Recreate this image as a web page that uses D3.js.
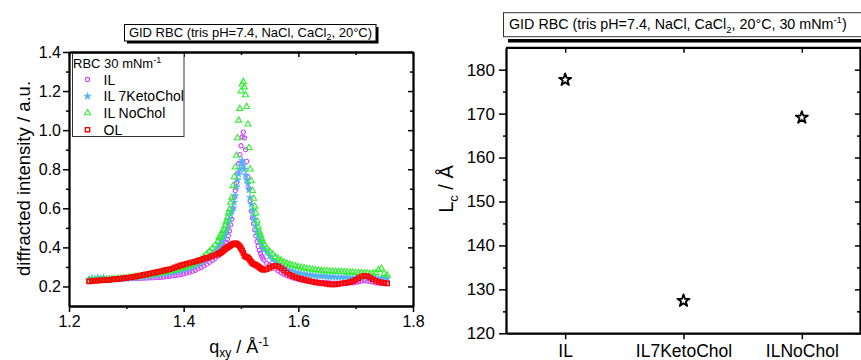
<!DOCTYPE html>
<html><head><meta charset="utf-8">
<script src="https://cdn.jsdelivr.net/npm/d3@7"></script>
<style>body{margin:0;background:#fff} svg{display:block} text{font-family:Arial,"Liberation Sans",sans-serif;fill:#000}</style>
</head><body><svg id="c" width="861" height="360"></svg>
<script>
// ---------- data: left panel (GID scans) ----------
const qxy = [1.235,1.24,1.245,1.25,1.255,1.26,1.265,1.27,1.275,1.28,1.285,1.29,1.295,1.3,1.305,1.31,1.315,1.32,1.325,1.33,1.335,1.34,1.345,1.35,1.355,1.36,1.365,1.37,1.375,1.38,1.385,1.39,1.395,1.4,1.405,1.41,1.415,1.42,1.425,1.43,1.435,1.44,1.445,1.45,1.455,1.46,
1.462,1.464,1.466,1.468,1.47,1.472,1.474,1.476,1.478,1.48,1.482,1.484,1.486,1.488,1.49,1.492,1.494,1.496,1.498,1.5,1.502,1.504,1.506,1.508,1.51,1.512,1.514,1.516,1.518,1.52,1.522,1.524,1.526,1.528,1.53,1.532,1.534,1.536,1.538,1.54,
1.545,1.55,1.555,1.56,1.565,1.57,1.575,1.58,1.585,1.59,1.595,1.6,1.605,1.61,1.615,1.62,1.625,1.63,1.635,1.64,1.645,1.65,1.655,1.66,1.665,1.67,1.675,1.68,1.685,1.69,1.695,1.7,1.705,1.71,1.715,1.72,1.725,1.73,1.735,1.74,1.745,1.75,1.755];
const intIL = [.228,.229,.230,.231,.232,.232,.233,.234,.235,.236,.237,.238,.239,.240,.240,.241,.241,.242,.242,.243,.243,.244,.244,.245,.246,.247,.248,.250,.252,.254,.256,.258,.261,.264,.268,.272,.277,.283,.290,.297,.305,.314,.324,.334,.344,.355,
.362,.370,.378,.388,.398,.410,.425,.440,.460,.485,.515,.545,.600,.655,.690,.730,.780,.830,.875,.920,.965,.990,.960,.900,.840,.760,.700,.640,.585,.550,.520,.490,.460,.430,.405,.385,.370,.355,.345,.335,
.318,.310,.302,.290,.280,.270,.262,.255,.249,.244,.240,.236,.233,.230,.228,.226,.224,.223,.222,.221,.220,.219,.218,.217,.217,.216,.216,.216,.217,.218,.219,.221,.224,.227,.229,.228,.225,.222,.219,.217,.216,.215,.214];
const int7Keto = [.236,.242,.238,.245,.240,.246,.238,.237,.236,.237,.238,.239,.240,.241,.242,.244,.245,.247,.249,.251,.253,.255,.257,.259,.261,.263,.266,.268,.271,.274,.277,.280,.283,.287,.291,.296,.301,.307,.314,.322,.331,.341,.352,.366,.381,.398,
.410,.420,.430,.440,.455,.465,.480,.500,.525,.545,.570,.585,.600,.630,.665,.710,.745,.775,.800,.830,.845,.820,.800,.770,.745,.725,.695,.655,.620,.590,.560,.540,.510,.480,.460,.445,.430,.415,.400,.390,
.375,.355,.338,.325,.315,.305,.296,.288,.282,.277,.273,.269,.266,.263,.261,.259,.257,.255,.254,.253,.252,.251,.250,.249,.248,.247,.247,.246,.246,.245,.245,.244,.245,.246,.248,.247,.245,.243,.242,.241,.242,.244,.240];
const intNoChol = [.232,.230,.233,.231,.234,.233,.235,.236,.238,.237,.240,.241,.243,.244,.246,.247,.249,.251,.253,.255,.257,.259,.262,.264,.267,.269,.272,.275,.278,.281,.284,.288,.292,.296,.300,.306,.312,.320,.328,.338,.352,.366,.380,.395,.412,.432,
.450,.460,.470,.485,.495,.510,.530,.550,.575,.595,.630,.655,.715,.760,.810,.870,.960,1.050,1.110,1.200,1.235,1.248,1.220,1.180,1.120,1.030,.910,.800,.740,.690,.650,.610,.575,.535,.505,.480,.465,.445,.430,.415,
.395,.380,.365,.350,.342,.333,.325,.318,.313,.308,.304,.300,.297,.294,.291,.289,.287,.285,.283,.281,.280,.279,.278,.277,.276,.276,.275,.275,.273,.272,.272,.271,.270,.269,.268,.268,.266,.267,.270,.285,.292,.265,.258];
const intOL = [.226,.228,.229,.230,.231,.232,.233,.234,.236,.237,.239,.240,.242,.244,.246,.248,.250,.253,.256,.259,.262,.265,.268,.271,.275,.278,.281,.285,.288,.292,.298,.303,.308,.312,.316,.320,.324,.328,.332,.336,.341,.346,.351,.356,.361,.367,
.369,.372,.376,.381,.386,.391,.395,.398,.402,.406,.410,.414,.417,.420,.421,.420,.416,.411,.404,.395,.385,.372,.358,.352,.350,.348,.342,.333,.325,.318,.315,.313,.310,.306,.302,.298,.294,.290,.287,.285,
.288,.295,.303,.306,.302,.293,.282,.270,.260,.253,.247,.243,.239,.235,.231,.227,.224,.221,.219,.217,.215,.213,.211,.210,.211,.213,.215,.217,.219,.222,.227,.234,.243,.251,.255,.253,.245,.236,.229,.224,.221,.218,.216];
const seriesNames = ["IL","IL 7KetoChol","IL NoChol","OL"];
const xTicksL = [1.2,1.4,1.6,1.8];
const xMinorL = [1.3,1.5,1.7];
const yTicksL = [0.2,0.4,0.6,0.8,1.0,1.2,1.4];
const yMinorL = [0.3,0.5,0.7,0.9,1.1,1.3];
// ---------- data: right panel (coherence length) ----------
const samples = ["IL","IL7KetoChol","ILNoChol"];
const Lc = [177.7,127.4,169.1];
const yTicksR = [120,130,140,150,160,170,180];
const yMinorR = [125,135,145,155,165,175];

const svg = d3.select("#c");
const FONT = 'Arial,"Liberation Sans",sans-serif';

function styleAxis(g, fs){
  g.attr("font-family", FONT).attr("font-size", fs);
  g.select(".domain").attr("stroke","#000").attr("stroke-width",1.8);
  g.selectAll(".tick line").attr("stroke","#000").attr("stroke-width",1.5);
  g.selectAll(".tick text").attr("fill","#000");
}

// ================= LEFT PANEL =================
const x = d3.scaleLinear().domain([1.2,1.8]).range([69,413]);
const y = d3.scaleLinear().domain([0.1,1.4]).range([306,52]);

// title box
svg.append("rect").attr("x",127).attr("y",27).attr("width",251.5).attr("height",16.5).attr("fill","#000");
svg.append("rect").attr("x",124.5).attr("y",24.5).attr("width",251.5).attr("height",16.5).attr("fill","#fff").attr("stroke","#000").attr("stroke-width",1);
{
  const t = svg.append("text").attr("x",250.5).attr("y",37.3).attr("text-anchor","middle").attr("font-size",13);
  t.append("tspan").text("GID RBC (tris pH=7.4, NaCl, CaCl");
  t.append("tspan").attr("font-size",9).attr("dy",3).text("2");
  t.append("tspan").attr("dy",-3).text(", 20°C)");
}

const series = [
  {name:seriesNames[0], vals:intIL, sym:d3.symbolCircle, size:14, fill:"none", stroke:"#cc44ff", sw:1.1},
  {name:seriesNames[1], vals:int7Keto, sym:d3.symbolStar, size:16, fill:"#55b0f2", stroke:"#55b0f2", sw:0.6},
  {name:seriesNames[2], vals:intNoChol, sym:d3.symbolTriangle, size:16, fill:"none", stroke:"#33ee33", sw:1.1},
  {name:seriesNames[3], vals:intOL, sym:d3.symbolSquare, size:18, fill:"none", stroke:"#ff0000", sw:1.4}
];
const gPts = svg.append("g");
series.forEach(s=>{
  const sym = d3.symbol().type(s.sym).size(s.size);
  gPts.append("g").selectAll("path").data(qxy.map((q,i)=>[q,s.vals[i]])).join("path")
    .attr("transform",d=>`translate(${x(d[0])},${y(d[1])})`)
    .attr("d",sym).attr("fill",s.fill).attr("stroke",s.stroke).attr("stroke-width",s.sw);
});

// axes
styleAxis(svg.append("g").attr("transform","translate(0,306)")
  .call(d3.axisBottom(x).tickValues(xTicksL).tickSize(6).tickSizeOuter(0).tickPadding(4).tickFormat(d3.format(".1f"))),16);
styleAxis(svg.append("g").attr("transform","translate(0,306)")
  .call(d3.axisBottom(x).tickValues(xMinorL).tickSize(3).tickSizeOuter(0).tickFormat("")),16);
styleAxis(svg.append("g").attr("transform","translate(0,52)")
  .call(d3.axisTop(x).tickValues(xTicksL).tickSize(-5).tickSizeOuter(0).tickFormat("")),16);
styleAxis(svg.append("g").attr("transform","translate(0,52)")
  .call(d3.axisTop(x).tickValues(xMinorL).tickSize(-3).tickSizeOuter(0).tickFormat("")),16);
styleAxis(svg.append("g").attr("transform","translate(69,0)")
  .call(d3.axisLeft(y).tickValues(yTicksL).tickSize(6).tickSizeOuter(0).tickPadding(2).tickFormat(d3.format(".1f"))),16);
styleAxis(svg.append("g").attr("transform","translate(69,0)")
  .call(d3.axisLeft(y).tickValues(yMinorL).tickSize(3).tickSizeOuter(0).tickFormat("")),16);
styleAxis(svg.append("g").attr("transform","translate(413,0)")
  .call(d3.axisRight(y).tickValues(yTicksL).tickSize(-5).tickSizeOuter(0).tickFormat("")),16);
styleAxis(svg.append("g").attr("transform","translate(413,0)")
  .call(d3.axisRight(y).tickValues(yMinorL).tickSize(-3).tickSizeOuter(0).tickFormat("")),16);

// legend
svg.append("rect").attr("x",72.5).attr("y",53.5).attr("width",111.5).attr("height",83).attr("fill","#fff").attr("stroke","#333").attr("stroke-width",1);
{
  const t = svg.append("text").attr("x",73).attr("y",67.5).attr("font-size",13);
  t.append("tspan").text("RBC 30 mNm");
  t.append("tspan").attr("font-size",9).attr("dy",-5).text("-1");
}
const legY = [79.5,96.3,113,129.7];
series.forEach((s,i)=>{
  svg.append("path").attr("transform",`translate(87.5,${legY[i]})`)
    .attr("d",d3.symbol().type(s.sym).size(s.size)).attr("fill",s.fill).attr("stroke",s.stroke).attr("stroke-width",s.sw);
  svg.append("text").attr("x",103.5).attr("y",legY[i]+5).attr("font-size",14).text(s.name);
});

// axis titles
svg.append("text").attr("transform","translate(30,178.5) rotate(-90)").attr("text-anchor","middle")
  .attr("font-size",18.5).text("diffracted intensity / a.u.");
{
  const t = svg.append("text").attr("x",239).attr("y",353).attr("text-anchor","middle").attr("font-size",18);
  t.append("tspan").text("q");
  t.append("tspan").attr("font-size",12).attr("dy",4).text("xy");
  t.append("tspan").attr("dy",-4).text(" / Å");
  t.append("tspan").attr("font-size",12).attr("dy",-7).text("-1");
}

// ================= RIGHT PANEL =================
const xR = d3.scalePoint().domain(samples).range([506,861]).padding(0.5);
const yR = d3.scaleLinear().domain([120,185]).range([333.3,47.7]);

svg.append("rect").attr("x",508).attr("y",39).attr("width",360).attr("height",3.5).attr("fill","#000");
svg.append("rect").attr("x",503.5).attr("y",12.7).attr("width",370).attr("height",24).attr("fill","#fff").attr("stroke","#333").attr("stroke-width",1);
{
  const t = svg.append("text").attr("x",509).attr("y",29.3).attr("font-size",14.3);
  t.append("tspan").text("GID RBC (tris pH=7.4, NaCl, CaCl");
  t.append("tspan").attr("font-size",9.5).attr("dy",3.5).text("2");
  t.append("tspan").attr("dy",-3.5).text(", 20°C, 30 mNm");
  t.append("tspan").attr("font-size",9.5).attr("dy",-6).text("-1");
  t.append("tspan").attr("dy",6).text(")");
}

styleAxis(svg.append("g").attr("transform","translate(0,333.3)")
  .call(d3.axisBottom(xR).tickSize(6).tickSizeOuter(0).tickPadding(5)),17.5);
styleAxis(svg.append("g").attr("transform","translate(0,47.7)")
  .call(d3.axisTop(xR).tickSize(-5).tickSizeOuter(0).tickFormat("")),17);
styleAxis(svg.append("g").attr("transform","translate(506,0)")
  .call(d3.axisLeft(yR).tickValues(yTicksR).tickSize(7).tickSizeOuter(0).tickPadding(4)),17);
styleAxis(svg.append("g").attr("transform","translate(506,0)")
  .call(d3.axisLeft(yR).tickValues(yMinorR).tickSize(3).tickSizeOuter(0).tickFormat("")),17);
styleAxis(svg.append("g").attr("transform","translate(860,0)")
  .call(d3.axisRight(yR).tickValues(yTicksR).tickSize(-5).tickSizeOuter(0).tickFormat("")),17);
styleAxis(svg.append("g").attr("transform","translate(860,0)")
  .call(d3.axisRight(yR).tickValues(yMinorR).tickSize(-3).tickSizeOuter(0).tickFormat("")),17);
svg.append("line").attr("x1",506).attr("x2",861).attr("y1",47.7).attr("y2",47.7).attr("stroke","#000").attr("stroke-width",1.8);
svg.append("line").attr("x1",506).attr("x2",861).attr("y1",333.3).attr("y2",333.3).attr("stroke","#000").attr("stroke-width",1.8);

svg.append("g").selectAll("path").data(samples.map((s,i)=>[s,Lc[i]])).join("path")
  .attr("transform",d=>`translate(${xR(d[0])},${yR(d[1])})`)
  .attr("d",d3.symbol().type(d3.symbolStar).size(46))
  .attr("fill","#fff").attr("stroke","#000").attr("stroke-width",1.8).attr("stroke-linejoin","round");

{
  const t = svg.append("text").attr("transform","translate(453,189) rotate(-90)").attr("text-anchor","middle").attr("font-size",20);
  t.append("tspan").text("L");
  t.append("tspan").attr("font-size",13).attr("dy",5).text("c");
  t.append("tspan").attr("dy",-5).text(" / Å");
}
</script></body></html>
